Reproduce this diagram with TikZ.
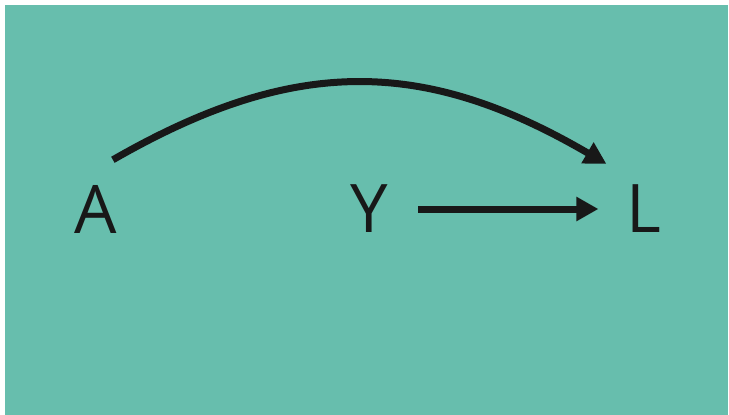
\documentclass[tikz,border=0pt]{standalone}
\usepackage{fontspec}
\setmainfont{Open Sans}
\usepackage{tikz}
\usetikzlibrary{arrows.meta}
\definecolor{panel}{RGB}{103, 190, 173}
\definecolor{ink}{RGB}{24, 24, 24}

\tikzset{
  letter/.style={ink, inner sep=0pt, font=\fontsize{67}{80}\selectfont},
  link/.style={ink, line width=7pt, -{Triangle[length=22pt, width=23pt]}}
}

\begin{document}
\begin{tikzpicture}[x=1pt, y=-1pt]
  \useasboundingbox (0,0) rectangle (729,415);
  % Background panel
  \fill[white] (0,0) rectangle (729,415);
  \fill[panel] (5,5) rectangle (728,415);
  % Letters
  \node[letter] (A) at (95.5,209) {A};
  \node[letter] (Y) at (369.5,209) {Y};
  \node[letter] (L) at (644,209) {L};
  % Arrows
  \coordinate (arcstart) at ([shift={(-4,-25)}]A.north east);
  \coordinate (arcend) at ([shift={(-20,-21)}]L.north west);
  \draw[link] (arcstart) .. controls (295,55) and (425,58) .. (arcend);
  \draw[link] ([xshift=30pt]Y.east) -- ([xshift=-28pt]L.west);
\end{tikzpicture}
\end{document}
